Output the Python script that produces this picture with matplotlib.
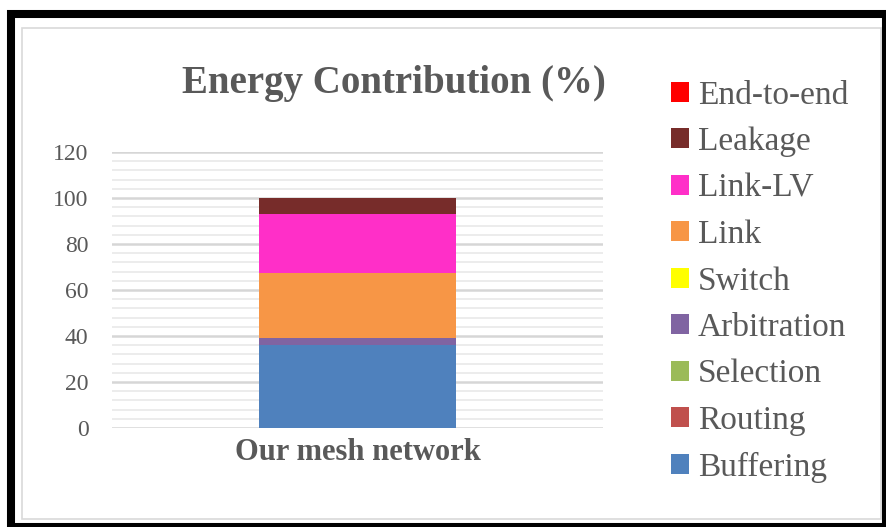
import matplotlib
matplotlib.use("Agg")
import matplotlib.pyplot as plt
from matplotlib.patches import Patch, Rectangle
from matplotlib.ticker import MultipleLocator

# energy breakdown of one network, stacked bottom -> top
category = ["Our mesh network"]
components = ["Buffering", "Routing", "Selection", "Arbitration", "Switch",
              "Link", "Link-LV", "Leakage", "End-to-end"]
shares = [36.0, 0.0, 0.0, 3.0, 0.0, 28.5, 25.5, 7.0, 0.0]
colors = ["#4F81BD", "#C0504D", "#9BBB59", "#8064A2", "#FFFF00",
          "#F79646", "#FF2FC8", "#772C2A", "#FF0000"]
yticks = [0, 20, 40, 60, 80, 100, 120]

plt.rcParams["font.family"] = ["Liberation Serif", "DejaVu Serif"]
txt = "#595959"

W, H = 886, 527
fig = plt.figure(figsize=(W / 100, H / 100), dpi=100)
ax = fig.add_axes([112 / W, 1 - 428 / H, (603 - 112) / W, (428 - 152) / H])

bottom = 0.0
for name, val, col in zip(components, shares, colors):
    ax.bar(0, val, width=0.4, bottom=bottom, color=col, linewidth=0,
           label=name, zorder=3)
    bottom += val

ax.set_xlim(-0.5, 0.5)
ax.set_ylim(0, 120)
ax.set_yticks(yticks)
ax.yaxis.set_minor_locator(MultipleLocator(4))
ax.grid(axis="y", which="major", color="#d6d6d6", linewidth=1.8, zorder=0)
ax.grid(axis="y", which="minor", color="#ececec", linewidth=1.4, zorder=0)
ax.set_axisbelow(True)
for s in ax.spines.values():
    s.set_visible(False)

ax.set_xticks([0], category)
ax.tick_params(axis="x", length=0, pad=7, labelsize=22, labelcolor=txt)
for t in ax.get_xticklabels():
    t.set_fontweight("bold")
ax.tick_params(axis="y", which="both", length=0, pad=17, labelsize=17,
               labelcolor=txt)

fig.text(394 / W, 1 - 93 / H, "Energy Contribution (%)", ha="center",
         va="baseline", fontsize=28, fontweight="bold", color=txt)

handles = [Patch(facecolor=c, edgecolor="none", label=n)
           for n, c in zip(components, colors)][::-1]
leg = fig.legend(handles=handles, loc="upper left",
                 bbox_to_anchor=(671 / W, 1 - 80 / H), frameon=False,
                 fontsize=24, handlelength=0.55, handleheight=0.55,
                 handletextpad=0.25, labelspacing=0.48, borderpad=0,
                 borderaxespad=0)
for t in leg.get_texts():
    t.set_color(txt)

# light chart frame and the thick black border around it
fig.patches.append(Rectangle((22 / W, 1 - 519 / H), (881 - 22) / W,
                             (519 - 28) / H, transform=fig.transFigure,
                             fill=False, edgecolor="#d9d9d9", linewidth=1.2))
fig.patches.append(Rectangle((11 / W, 0.0), (886 - 11) / W, 1 - 14 / H,
                             transform=fig.transFigure, fill=False,
                             edgecolor="black", linewidth=5.8))

fig.savefig("out.png", dpi=100)
